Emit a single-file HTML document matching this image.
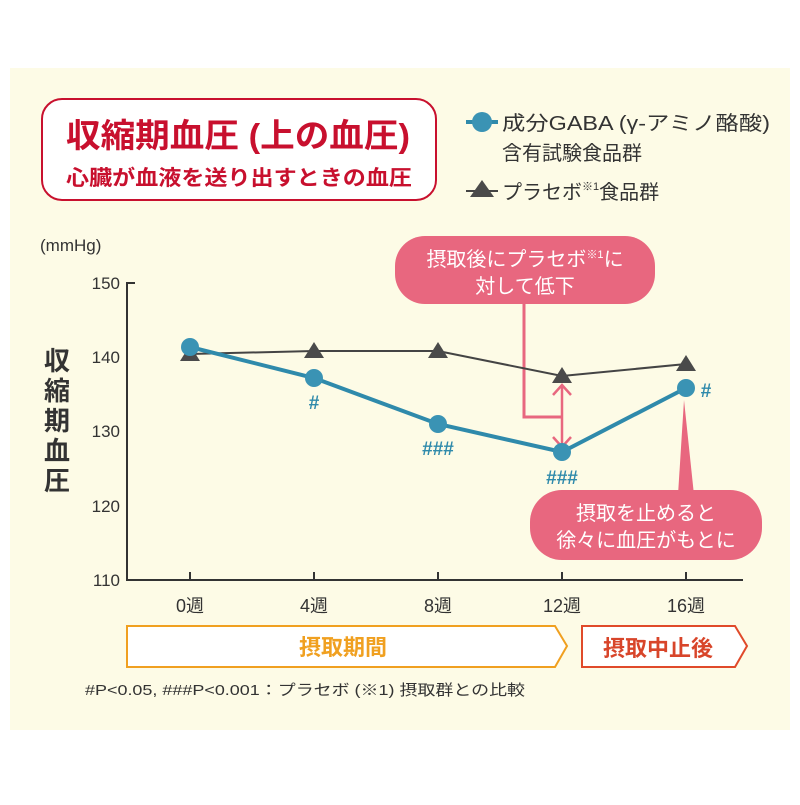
<!DOCTYPE html>
<html><head><meta charset="utf-8"><style>
body{margin:0;background:#fff}
svg text{font-family:"Liberation Sans","Noto Sans CJK JP",sans-serif}
</style></head><body>
<svg width="800" height="800" viewBox="0 0 800 800" xmlns="http://www.w3.org/2000/svg">
<rect x="10" y="68" width="780" height="662" fill="#fdfbe6"/>
<rect x="42" y="99" width="394" height="101" rx="20" fill="#fff" stroke="#c8102e" stroke-width="2"/>
<text x="66" y="147" font-size="33" font-weight="bold" fill="#c8102e" textLength="344" lengthAdjust="spacingAndGlyphs">収縮期血圧 (上の血圧)</text>
<text x="66" y="185" font-size="21" font-weight="bold" fill="#c8102e" textLength="346" lengthAdjust="spacingAndGlyphs">心臓が血液を送り出すときの血圧</text>
<line x1="466" y1="122" x2="498" y2="122" stroke="#2f8aab" stroke-width="4"/>
<circle cx="482" cy="122" r="10" fill="#3a93b4"/>
<text x="502" y="130" font-size="20" fill="#333" textLength="268" lengthAdjust="spacingAndGlyphs">成分GABA (γ-アミノ酪酸)</text>
<text x="502" y="160" font-size="20" fill="#333">含有試験食品群</text>
<line x1="466" y1="191" x2="498" y2="191" stroke="#444" stroke-width="2"/>
<polygon points="482,180 494,197 470,197" fill="#4a4a4a"/>
<text x="502" y="199" font-size="20" fill="#333">プラセボ<tspan font-size="11" dy="-9">※1</tspan><tspan dy="9">食品群</tspan></text>
<text x="40" y="251" font-size="17" fill="#333">(mmHg)</text>
<g font-size="17" fill="#333" text-anchor="end">
<text x="120" y="289">150</text><text x="120" y="363">140</text><text x="120" y="437">130</text><text x="120" y="512">120</text><text x="120" y="586">110</text></g>
<g font-size="26" font-weight="bold" fill="#333" text-anchor="middle">
<text x="57" y="370">収</text><text x="57" y="400">縮</text><text x="57" y="430">期</text><text x="57" y="460">血</text><text x="57" y="490">圧</text></g>
<g stroke="#333" stroke-width="2" fill="none">
<polyline points="135,283 127,283 127,580 743,580"/>
<line x1="190" y1="580" x2="190" y2="572"/><line x1="314" y1="580" x2="314" y2="572"/><line x1="438" y1="580" x2="438" y2="572"/><line x1="562" y1="580" x2="562" y2="572"/><line x1="686" y1="580" x2="686" y2="572"/>
</g>
<g font-size="18" fill="#333" text-anchor="middle">
<text x="190" y="612">0週</text><text x="314" y="612">4週</text><text x="438" y="612">8週</text><text x="562" y="612">12週</text><text x="686" y="612">16週</text></g>
<polygon points="127,626 555,626 567,646 555,667 127,667" fill="#fff" stroke="#f0a020" stroke-width="2"/>
<text x="343" y="655" font-size="22" font-weight="bold" fill="#f0a020" text-anchor="middle">摂取期間</text>
<polygon points="582,626 735,626 747,646 735,667 582,667" fill="#fff" stroke="#e04a2a" stroke-width="2"/>
<text x="658" y="656" font-size="22" font-weight="bold" fill="#d8452a" text-anchor="middle">摂取中止後</text>
<text x="85" y="695" font-size="15" fill="#333" textLength="440" lengthAdjust="spacingAndGlyphs">#P&lt;0.05, ###P&lt;0.001：プラセボ (※1) 摂取群との比較</text>
<rect x="395" y="236" width="260" height="68" rx="30" fill="#e8677f"/>
<text x="525" y="266" font-size="20" fill="#fff" text-anchor="middle">摂取後にプラセボ<tspan font-size="11" dy="-8">※1</tspan><tspan dy="8">に</tspan></text>
<text x="525" y="293" font-size="20" fill="#fff" text-anchor="middle">対して低下</text>
<polyline points="524,304 524,417 562,417" fill="none" stroke="#e8677f" stroke-width="3"/>
<line x1="562" y1="386" x2="562" y2="446" stroke="#e8677f" stroke-width="2.5"/>
<polyline points="553,395 562,385 571,395" fill="none" stroke="#e8677f" stroke-width="2.5"/>
<polyline points="553,437 562,447 571,437" fill="none" stroke="#e8677f" stroke-width="2.5"/>
<polyline points="190,354 314,351 438,351 562,376 686,364" fill="none" stroke="#444" stroke-width="2"/>
<g fill="#4a4a4a"><polygon points="190,345 200,361 180,361"/><polygon points="314,342 324,358 304,358"/><polygon points="438,342 448,358 428,358"/><polygon points="562,367 572,383 552,383"/><polygon points="686,355 696,371 676,371"/></g>
<polyline points="190,347 314,378 438,424 562,452 686,388" fill="none" stroke="#2f8aab" stroke-width="4"/>
<g fill="#3a93b4"><circle cx="190" cy="347" r="9"/><circle cx="314" cy="378" r="9"/><circle cx="438" cy="424" r="9"/><circle cx="562" cy="452" r="9"/><circle cx="686" cy="388" r="9"/></g>
<g font-size="19" font-weight="bold" fill="#2f8aab" text-anchor="middle">
<text x="314" y="409">#</text><text x="438" y="455">###</text><text x="562" y="484">###</text><text x="706" y="397">#</text></g>
<polygon points="684,400 678,495 694,495" fill="#e8677f"/>
<rect x="530" y="490" width="232" height="70" rx="32" fill="#e8677f"/>
<text x="646" y="520" font-size="20" fill="#fff" text-anchor="middle">摂取を止めると</text>
<text x="646" y="547" font-size="20" fill="#fff" text-anchor="middle">徐々に血圧がもとに</text>
</svg>
</body></html>
